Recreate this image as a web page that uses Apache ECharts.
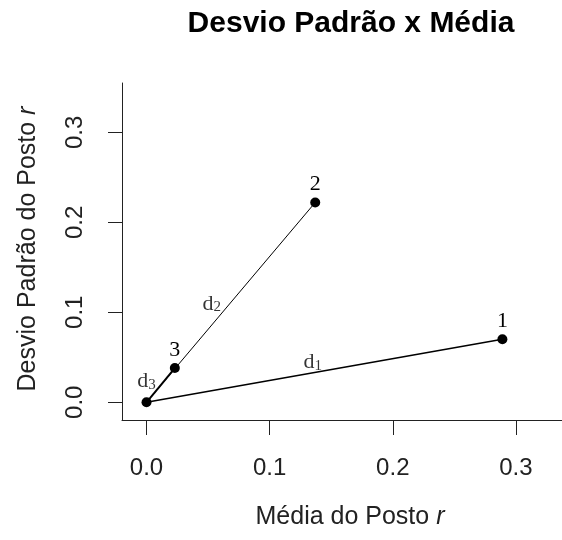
<!DOCTYPE html>
<html>
<head>
<meta charset="utf-8">
<script src="https://cdn.jsdelivr.net/npm/echarts@6/dist/echarts.min.js"></script>
<style>
  html, body { margin: 0; padding: 0; background: #fff; }
  #chart { width: 562px; height: 540px; }
</style>
</head>
<body>
<div id="chart"></div>
<script>
// Mean and standard deviation of rank r for each item
const pointNames = ['1', '2', '3'];
const meanRank = [0.289, 0.137, 0.023];
const sdRank = [0.070, 0.222, 0.038];
const originPoint = [0, 0];

// Distance labels d1, d2, d3 placed in data coordinates
const distIndex = ['1', '2', '3'];
const distLabelX = [0.135, 0.053, 0.000];
const distLabelY = [0.045, 0.110, 0.0237];

// Axis ticks
const xTicks = [0.0, 0.1, 0.2, 0.3];
const yTicks = [0.0, 0.1, 0.2, 0.3];

const sans = '"Liberation Sans", Arial, sans-serif';
const serif = '"Liberation Serif", "Times New Roman", serif';
const ink = '#222';

const chart = echarts.init(document.getElementById('chart'), null, { renderer: 'canvas' });

const segmentWidths = [1.5, 1, 2];
const segmentSeries = meanRank.map((mx, i) => ({
  type: 'line',
  data: [originPoint, [mx, sdRank[i]]],
  symbol: 'none',
  silent: true,
  lineStyle: { color: '#000', width: segmentWidths[i] },
  z: 2
}));

const pointData = [{ value: originPoint, name: '' }].concat(
  pointNames.map((n, i) => ({ value: [meanRank[i], sdRank[i]], name: n }))
);

const distData = distIndex.map((k, i) => ({ value: [distLabelX[i], distLabelY[i]], name: k }));

chart.setOption({
  animation: false,
  backgroundColor: '#fff',
  grid: { left: 122, top: 83, width: 440, height: 337, containLabel: false },
  xAxis: {
    type: 'value',
    min: -0.0199,
    max: 0.3374,
    axisLine: { show: true, onZero: false, lineStyle: { color: ink, width: 1 } },
    axisTick: { show: true, length: 15, customValues: xTicks, lineStyle: { color: ink, width: 1 } },
    axisLabel: {
      customValues: xTicks,
      formatter: v => v.toFixed(1),
      margin: 36,
      fontSize: 24,
      fontFamily: sans,
      color: ink
    },
    splitLine: { show: false }
  },
  yAxis: {
    type: 'value',
    min: -0.0197,
    max: 0.3548,
    axisLine: { show: true, onZero: false, lineStyle: { color: ink, width: 1 } },
    axisTick: { show: true, length: 14, customValues: yTicks, lineStyle: { color: ink, width: 1 } },
    axisLabel: {
      customValues: yTicks,
      formatter: v => v.toFixed(1),
      rotate: 90,
      margin: 35,
      fontSize: 24,
      fontFamily: sans,
      color: ink
    },
    splitLine: { show: false }
  },
  graphic: [
    {
      type: 'text',
      x: 351, y: 24,
      style: {
        text: 'Desvio Padrão x Média',
        font: 'bold 30px ' + sans,
        fill: '#000',
        textAlign: 'center',
        textVerticalAlign: 'middle'
      }
    },
    {
      type: 'text',
      x: 350, y: 517,
      style: {
        text: '{a|Média do Posto }{i|r}',
        textAlign: 'center',
        textVerticalAlign: 'middle',
        rich: {
          a: { fontSize: 25, fontFamily: sans, fill: ink, color: ink },
          i: { fontSize: 25, fontFamily: sans, fontStyle: 'italic', fill: ink, color: ink }
        }
      }
    },
    {
      type: 'text',
      x: 28, y: 249,
      rotation: Math.PI / 2,
      style: {
        text: '{a|Desvio Padrão do Posto }{i|r}',
        textAlign: 'center',
        textVerticalAlign: 'middle',
        rich: {
          a: { fontSize: 25, fontFamily: sans, fill: ink, color: ink },
          i: { fontSize: 25, fontFamily: sans, fontStyle: 'italic', fill: ink, color: ink }
        }
      }
    }
  ],
  series: segmentSeries.concat([
    {
      type: 'scatter',
      data: pointData,
      symbol: 'circle',
      symbolSize: 10,
      itemStyle: { color: '#000', opacity: 1 },
      label: {
        show: true,
        position: 'top',
        distance: 2,
        formatter: p => p.name,
        fontFamily: serif,
        fontSize: 22,
        color: '#000'
      },
      z: 3
    },
    {
      type: 'scatter',
      data: distData,
      symbolSize: 0,
      silent: true,
      label: {
        show: true,
        position: 'inside',
        formatter: p => '{d|d}{s|' + p.name + '}',
        rich: {
          d: { fontFamily: serif, fontSize: 22, color: '#000', verticalAlign: 'bottom', lineHeight: 23 },
          s: { fontFamily: serif, fontSize: 15, color: '#000', verticalAlign: 'bottom', lineHeight: 23 }
        }
      },
      z: 4
    }
  ])
});
</script>
</body>
</html>
